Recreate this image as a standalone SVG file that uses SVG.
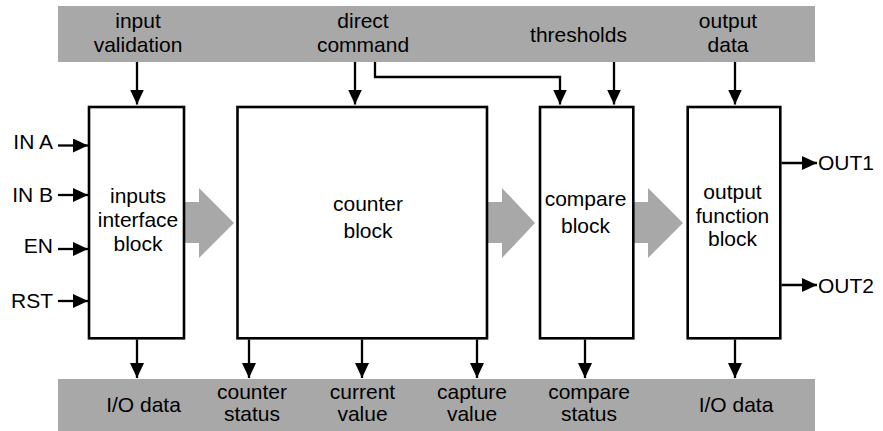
<svg xmlns="http://www.w3.org/2000/svg" width="883" height="431" viewBox="0 0 883 431">
  <defs>
    <style>
      .bar { fill: #a8a8a8; }
      .flow { fill: #a8a8a8; }
      .box { fill: #ffffff; stroke: #000000; stroke-width: 2.6; }
      .wire { fill: none; stroke: #000000; stroke-width: 2.3; }
      .arr { marker-end: url(#head); }
      text { font-family: "Liberation Sans", Arial, sans-serif; font-size: 21px; fill: #000000; }
      .c { text-anchor: middle; }
      .r { text-anchor: end; }
    </style>
    <marker id="head" viewBox="0 0 15 14" refX="15" refY="7" markerWidth="15" markerHeight="14" markerUnits="userSpaceOnUse" orient="auto">
      <path d="M0,0 L15,7 L0,14 z" fill="#000000"/>
    </marker>
  </defs>

  <rect width="883" height="431" fill="#ffffff"/>

  <!-- register bars -->
  <g id="top-bar">
    <rect class="bar" x="58" y="6" width="757" height="56"/>
    <text class="c" x="138" y="27.5">input</text>
    <text class="c" x="138" y="51.5">validation</text>
    <text class="c" x="363" y="27.5">direct</text>
    <text class="c" x="363" y="51.5">command</text>
    <text class="c" x="578.5" y="42">thresholds</text>
    <text class="c" x="728" y="27.5">output</text>
    <text class="c" x="728" y="51.5">data</text>
  </g>
  <g id="bottom-bar">
    <rect class="bar" x="58" y="379" width="757" height="52"/>
    <text class="c" x="143.5" y="411.5">I/O data</text>
    <text class="c" x="252" y="398.5">counter</text>
    <text class="c" x="252" y="420.5">status</text>
    <text class="c" x="362.5" y="398.5">current</text>
    <text class="c" x="362.5" y="420.5">value</text>
    <text class="c" x="472" y="398.5">capture</text>
    <text class="c" x="472" y="420.5">value</text>
    <text class="c" x="589" y="398.5">compare</text>
    <text class="c" x="589" y="420.5">status</text>
    <text class="c" x="736" y="411.5">I/O data</text>
  </g>

  <!-- data flow between blocks -->
  <g id="flow-arrows">
    <polygon class="flow" points="184,202 199,202 199,188 234,223 199,258 199,243 184,243"/>
    <polygon class="flow" points="487,202 502,202 502,188 535,223 502,258 502,243 487,243"/>
    <polygon class="flow" points="633,202 648,202 648,188 683,223 648,258 648,243 633,243"/>
  </g>

  <g id="inputs-interface">
    <rect class="box" x="89" y="107" width="95" height="231.3"/>
    <text class="c" x="138" y="203">inputs</text>
    <text class="c" x="138" y="227">interface</text>
    <text class="c" x="138" y="251">block</text>
  </g>
  <g id="counter">
    <rect class="box" x="237.5" y="107" width="249.5" height="231.3"/>
    <text class="c" x="368" y="211">counter</text>
    <text class="c" x="368" y="238">block</text>
  </g>
  <g id="compare">
    <rect class="box" x="540" y="107" width="93.3" height="231.3"/>
    <text class="c" x="585.5" y="206">compare</text>
    <text class="c" x="585.5" y="233">block</text>
  </g>
  <g id="output-function">
    <rect class="box" x="687.7" y="107" width="92.6" height="231.3"/>
    <text class="c" x="732.5" y="199">output</text>
    <text class="c" x="732.5" y="223">function</text>
    <text class="c" x="732.5" y="246">block</text>
  </g>

  <!-- signal labels -->
  <g id="signal-labels">
    <text class="r" x="53" y="149">IN A</text>
    <text class="r" x="53" y="202">IN B</text>
    <text class="r" x="53" y="253">EN</text>
    <text class="r" x="53" y="308">RST</text>
    <text x="818" y="170">OUT1</text>
    <text x="818" y="292.5">OUT2</text>
  </g>

  <g id="connectors">
    <line class="wire arr" x1="137" y1="62" x2="137" y2="104.5"/>
    <line class="wire arr" x1="355" y1="62" x2="355" y2="104.5"/>
    <polyline class="wire arr" points="375,62 375,77 560,77 560,104.5"/>
    <line class="wire arr" x1="614" y1="62" x2="614" y2="104.5"/>
    <line class="wire arr" x1="735" y1="62" x2="735" y2="104.5"/>

    <line class="wire arr" x1="137" y1="339.5" x2="137" y2="378"/>
    <line class="wire arr" x1="249" y1="339.5" x2="249" y2="378"/>
    <line class="wire arr" x1="362" y1="339.5" x2="362" y2="378"/>
    <line class="wire arr" x1="477" y1="339.5" x2="477" y2="378"/>
    <line class="wire arr" x1="585" y1="339.5" x2="585" y2="378"/>
    <line class="wire arr" x1="735" y1="339.5" x2="735" y2="378"/>

    <line class="wire arr" x1="58" y1="145.5" x2="88" y2="145.5"/>
    <line class="wire arr" x1="58" y1="195" x2="88" y2="195"/>
    <line class="wire arr" x1="58" y1="249" x2="88" y2="249"/>
    <line class="wire arr" x1="58" y1="301" x2="88" y2="301"/>

    <line class="wire arr" x1="781.5" y1="163" x2="817" y2="163"/>
    <line class="wire arr" x1="781.5" y1="285" x2="817" y2="285"/>
  </g>
</svg>
